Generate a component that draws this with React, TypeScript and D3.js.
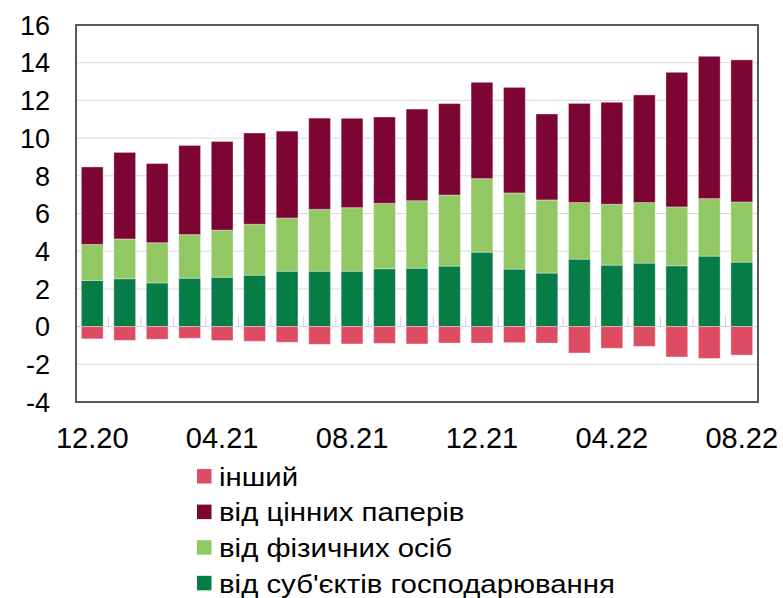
import { useEffect, useRef } from 'react'
import * as d3 from 'd3'

const months = ['12.20', '01.21', '02.21', '03.21', '04.21', '05.21', '06.21', '07.21', '08.21', '09.21', '10.21',
    '11.21', '12.21', '01.22', '02.22', '03.22', '04.22', '05.22', '06.22', '07.22', '08.22']
const corporates = [2.45, 2.54, 2.32, 2.57, 2.62, 2.73, 2.94, 2.94, 2.94, 3.07, 3.10, 3.21, 3.95, 3.05, 2.84, 3.58, 3.26, 3.37, 3.23, 3.74, 3.42]
const households = [1.91, 2.11, 2.13, 2.31, 2.50, 2.70, 2.82, 3.28, 3.37, 3.47, 3.58, 3.77, 3.90, 4.04, 3.88, 3.00, 3.23, 3.21, 3.12, 3.05, 3.19]
const securities = [4.11, 4.59, 4.20, 4.73, 4.70, 4.84, 4.61, 4.84, 4.74, 4.58, 4.86, 4.85, 5.11, 5.60, 4.56, 5.26, 5.41, 5.71, 7.14, 7.55, 7.54]
const other = [-0.65, -0.73, -0.67, -0.62, -0.74, -0.78, -0.83, -0.94, -0.92, -0.89, -0.92, -0.87, -0.87, -0.85, -0.87, -1.40, -1.15, -1.05, -1.61, -1.69, -1.51]
const yTicks = [-4, -2, 0, 2, 4, 6, 8, 10, 12, 14, 16]
const xLabels = ['12.20', '04.21', '08.21', '12.21', '04.22', '08.22']

const seriesKeys = ['corporates', 'households', 'securities', 'other']
const colors: Record<string, string> = {
    corporates: '#067d46',
    households: '#92c863',
    securities: '#7d0533',
    other: '#de4c64',
}
// legend order top to bottom
const legendItems = [
    { key: 'other', label: 'інший' },
    { key: 'securities', label: 'від цінних паперів' },
    { key: 'households', label: 'від фізичних осіб' },
    { key: 'corporates', label: 'від суб\'єктів господарювання' },
]

export default function App() {
    const svgRef = useRef<SVGSVGElement>(null)

    useEffect(() => {
        if (!svgRef.current) return
        const svg = d3.select(svgRef.current)
        svg.selectAll('*').remove()
        const width = 783
        const height = 598
        const margin = { top: 25, right: 25, bottom: 196, left: 76 }
        const font = '"Liberation Sans", Arial, sans-serif'

        const rows = months.map((m, i) => ({
            month: m,
            corporates: corporates[i],
            households: households[i],
            securities: securities[i],
            other: other[i],
        }))

        const x = d3.scaleBand()
            .domain(months)
            .range([margin.left, width - margin.right])
            .paddingInner(0.33)
            .paddingOuter(0.165)
        const y = d3.scaleLinear()
            .domain([-4, 16])
            .range([height - margin.bottom, margin.top])

        // grid
        svg.append('g')
            .selectAll('line')
            .data(yTicks.filter(t => t !== 0 && t !== 16 && t !== -4))
            .enter()
            .append('line')
            .attr('x1', margin.left)
            .attr('x2', width - margin.right)
            .attr('y1', d => y(d))
            .attr('y2', d => y(d))
            .attr('stroke', '#d9d9d9')
            .attr('stroke-width', 1)

        // zero line with category ticks
        svg.append('line')
            .attr('x1', margin.left)
            .attr('x2', width - margin.right)
            .attr('y1', y(0))
            .attr('y2', y(0))
            .attr('stroke', '#d0d0d0')
            .attr('stroke-width', 1)
        const step = x.step()
        svg.append('g')
            .selectAll('line')
            .data(d3.range(months.length + 1))
            .enter()
            .append('line')
            .attr('x1', i => margin.left + i * step)
            .attr('x2', i => margin.left + i * step)
            .attr('y1', y(0) - 10)
            .attr('y2', y(0))
            .attr('stroke', '#d0d0d0')
            .attr('stroke-width', 1)

        const stack = d3.stack<any>()
            .keys(seriesKeys)
            .offset(d3.stackOffsetDiverging)
        const stacked = stack(rows)

        svg.append('g')
            .selectAll('g')
            .data(stacked)
            .enter()
            .append('g')
            .attr('fill', d => colors[d.key])
            .selectAll('rect')
            .data(d => d)
            .enter()
            .append('rect')
            .attr('x', d => x(d.data.month) || 0)
            .attr('width', x.bandwidth())
            .attr('y', d => y(Math.max(d[0], d[1])))
            .attr('height', d => Math.abs(y(d[0]) - y(d[1])))
            .attr('stroke', 'rgba(255,255,255,0.35)')
            .attr('stroke-width', 1)

        // frame
        svg.append('rect')
            .attr('x', margin.left)
            .attr('y', margin.top)
            .attr('width', width - margin.left - margin.right)
            .attr('height', height - margin.top - margin.bottom)
            .attr('fill', 'none')
            .attr('stroke', '#595959')
            .attr('stroke-width', 2)

        // y labels
        svg.append('g')
            .selectAll('text')
            .data(yTicks)
            .enter()
            .append('text')
            .attr('x', margin.left - 26)
            .attr('y', d => y(d))
            .attr('dy', '0.36em')
            .attr('text-anchor', 'end')
            .attr('font-family', font)
            .attr('font-size', '27px')
            .attr('fill', '#000')
            .text(d => d)

        // x labels
        svg.append('g')
            .selectAll('text')
            .data(xLabels)
            .enter()
            .append('text')
            .attr('x', d => (x(d) || 0) + x.bandwidth() / 2)
            .attr('y', 448)
            .attr('text-anchor', 'middle')
            .attr('font-family', font)
            .attr('font-size', '29px')
            .attr('fill', '#000')
            .text(d => d)

        // legend (text in the original is a bit stretched horizontally)
        const legend = svg.append('g')
            .attr('transform', 'translate(197, 476)')
        legendItems.forEach((item, i) => {
            legend.append('rect')
                .attr('x', 0)
                .attr('y', i * 35.6 - 7)
                .attr('width', 14.5)
                .attr('height', 14.5)
                .attr('fill', colors[item.key])
            legend.append('text')
                .attr('transform', `translate(22, ${i * 35.6}) scale(1.13, 1)`)
                .attr('dy', '0.38em')
                .attr('font-family', font)
                .attr('font-size', '26px')
                .attr('fill', '#000')
                .text(item.label)
        })
    }, [])

    return (
        <svg ref={svgRef} width={783} height={598}
            style={{ position: 'absolute', left: 0, top: 0, background: '#fff' }} />
    )
}
